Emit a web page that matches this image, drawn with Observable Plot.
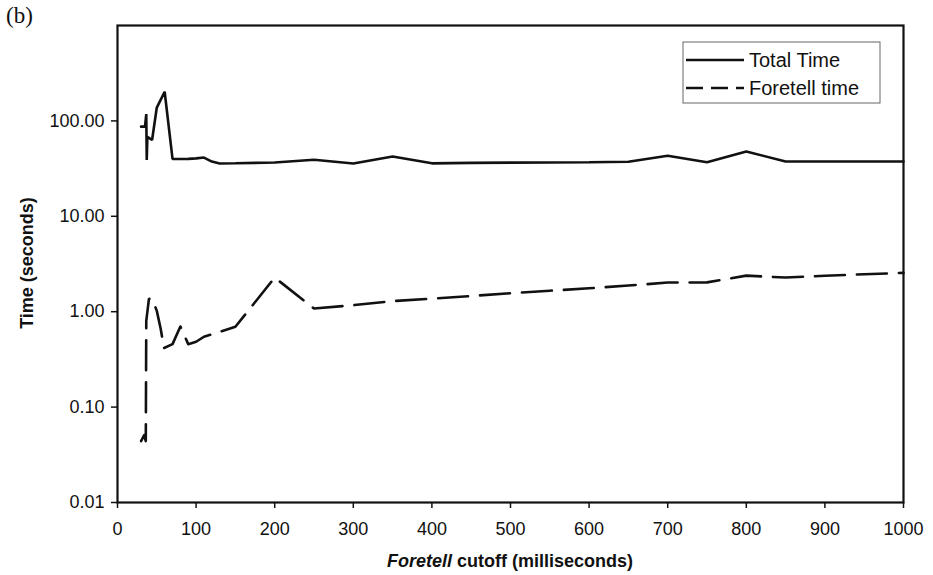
<!DOCTYPE html>
<html>
<head>
<meta charset="utf-8">
<script src="https://cdn.jsdelivr.net/npm/d3@7"></script>
<script src="https://cdn.jsdelivr.net/npm/@observablehq/plot@0.6"></script>
<style>
  html, body { margin: 0; padding: 0; background: #fff; }
  #chart { position: relative; width: 933px; height: 575px; }
</style>
</head>
<body>
<div id="chart"></div>
<script>
// ---- data ----
const totalX = [30, 35, 36.6, 37.2, 38, 44, 50, 60, 70, 80, 90, 100, 110, 120, 130, 150, 200, 250, 300, 350, 400, 450, 500, 550, 600, 650, 700, 750, 800, 850, 900, 950, 1000];
const totalY = [87, 87, 118, 39, 68, 63, 138, 202, 40, 39.8, 40, 40.5, 41.3, 37.5, 35.8, 36, 36.6, 39.1, 35.7, 42.4, 35.9, 36.3, 36.5, 36.7, 36.8, 37.3, 43.1, 36.9, 47.8, 37.5, 37.5, 37.5, 37.5];

const foretellX = [30, 34, 36, 36.6, 40, 44, 50, 55, 59, 70, 80, 90, 100, 110, 150, 200, 250, 300, 350, 400, 450, 500, 550, 600, 650, 700, 750, 800, 850, 900, 950, 1000];
const foretellY = [0.044, 0.051, 0.044, 0.80, 1.36, 1.37, 1.02, 0.66, 0.415, 0.457, 0.70, 0.457, 0.484, 0.546, 0.695, 2.28, 1.08, 1.17, 1.29, 1.37, 1.46, 1.56, 1.66, 1.76, 1.88, 2.02, 2.03, 2.39, 2.28, 2.38, 2.47, 2.55];

const seriesNames = ["Total Time", "Foretell time"];
const xTicks = [0, 100, 200, 300, 400, 500, 600, 700, 800, 900, 1000];
const yTicks = [0.01, 0.1, 1, 10, 100];
const xTitleItalic = "Foretell";
const xTitleRest = " cutoff (milliseconds)";
const yTitle = "Time (seconds)";
const panelLabel = "(b)";

const totalData = totalX.map((x, i) => ({x, y: totalY[i]}));
const foretellData = foretellX.map((x, i) => ({x, y: foretellY[i]}));

const ink = "#111";
const font = "'Liberation Sans', Arial, sans-serif";

const chart = Plot.plot({
  width: 933,
  height: 575,
  marginLeft: 117,
  marginRight: 30,
  marginTop: 25,
  marginBottom: 73,
  style: {fontFamily: font, fontSize: "18px", color: ink, background: "#fff", overflow: "visible"},
  x: {domain: [0, 1000]},
  y: {type: "log", domain: [0.01, 1000]},
  marks: [
    Plot.axisX({ticks: xTicks, tickSize: 6, tickPadding: 14, label: null, tickFormat: d => String(d), stroke: ink, strokeWidth: 1.5, fontSize: 18}),
    Plot.axisY({ticks: yTicks, tickSize: 6, tickPadding: 7, label: null, tickFormat: d3.format(".2f"), stroke: ink, strokeWidth: 1.5, fontSize: 18}),
    Plot.frame({stroke: ink, strokeWidth: 2.2}),
    Plot.line(totalData, {x: "x", y: "y", stroke: ink, strokeWidth: 2.6, strokeLinejoin: "miter"}),
    Plot.line(foretellData, {x: "x", y: "y", stroke: ink, strokeWidth: 2.6, strokeDasharray: "30,12"})
  ]
});
document.getElementById("chart").appendChild(chart);

const svg = d3.select(chart);
// panel label
svg.append("text").attr("x", 6).attr("y", 23).attr("text-anchor", "start")
  .attr("font-family", "'Liberation Serif', 'Times New Roman', serif").attr("font-size", 23)
  .attr("fill", ink).text(panelLabel);
// y title
svg.append("text").attr("transform", "translate(33,263) rotate(-90)")
  .attr("text-anchor", "middle").attr("font-family", font).attr("font-weight", "bold")
  .attr("font-size", 18).attr("fill", ink).text(yTitle);
// x title
const xt = svg.append("text").attr("x", 510).attr("y", 567)
  .attr("text-anchor", "middle").attr("font-family", font).attr("font-weight", "bold")
  .attr("font-size", 18).attr("fill", ink);
xt.append("tspan").attr("font-style", "italic").text(xTitleItalic);
xt.append("tspan").text(xTitleRest);

// legend
const lg = svg.append("g");
lg.append("rect").attr("x", 683).attr("y", 42).attr("width", 197).attr("height", 61)
  .attr("fill", "#fff").attr("stroke", "#666").attr("stroke-width", 1);
const dashes = [null, "17,8"];
seriesNames.forEach((name, i) => {
  const cy = 60 + i * 28;
  lg.append("line").attr("x1", 686).attr("x2", 744).attr("y1", cy).attr("y2", cy)
    .attr("stroke", ink).attr("stroke-width", 2.4).attr("stroke-dasharray", dashes[i]);
  lg.append("text").attr("x", 749).attr("y", cy + 7).attr("text-anchor", "start").attr("font-family", font)
    .attr("font-size", 20).attr("fill", ink).text(name);
});
</script>
</body>
</html>
